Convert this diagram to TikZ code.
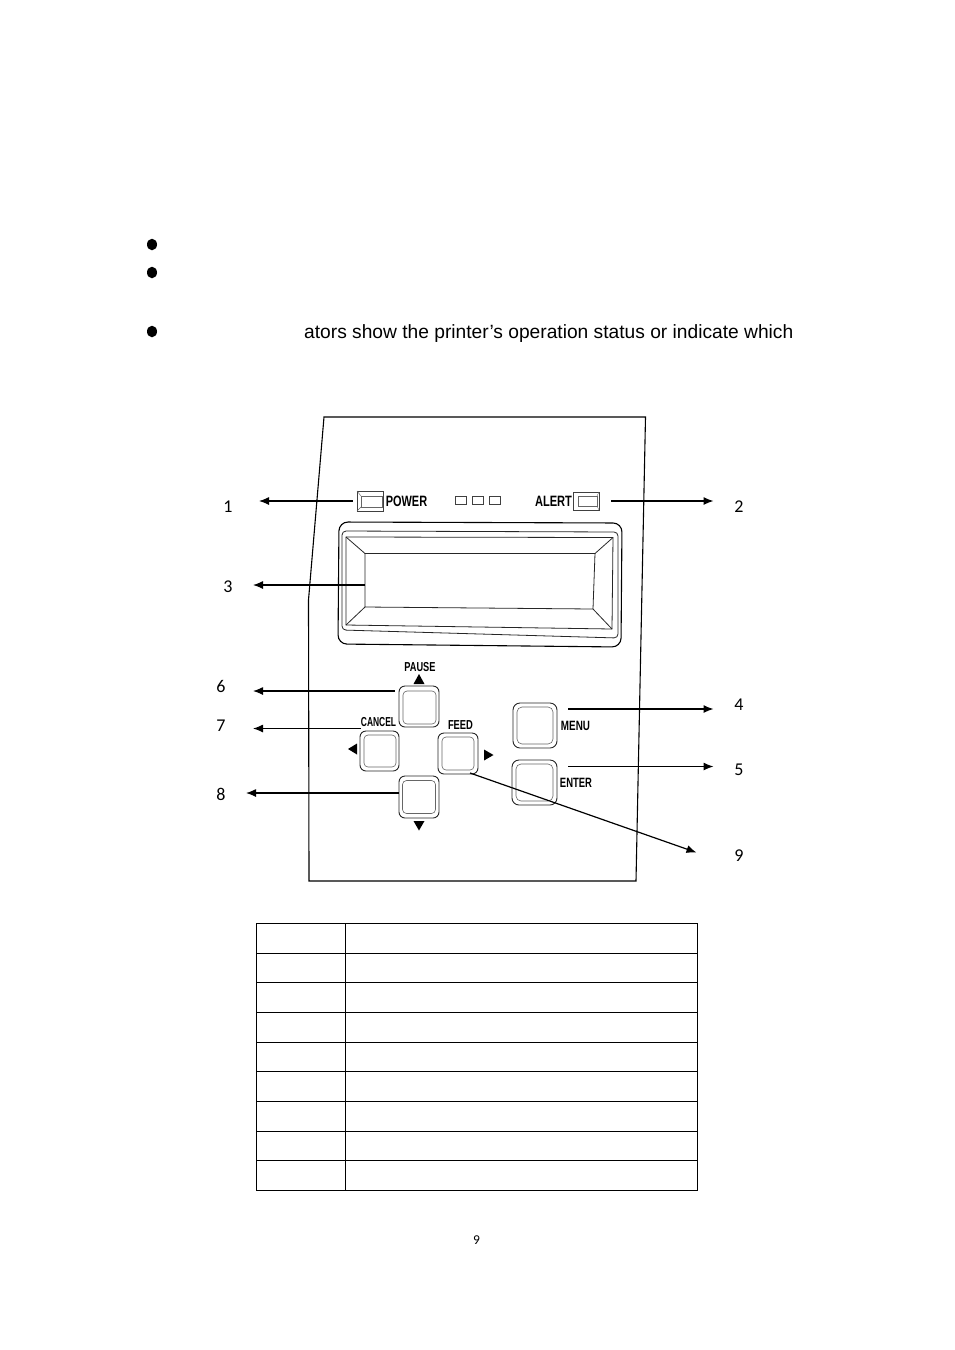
\documentclass[tikz,border=0pt]{standalone}
\usepackage{fontspec}
\setmainfont{Liberation Sans}
\newfontfamily\numfont{Carlito}
\usetikzlibrary{arrows.meta,calc}
\tikzset{
  ink/.style={line width=1.1pt,draw=black},
  thin ink/.style={line width=0.8pt,draw=black!85},
  callout/.style={line width=1.2pt,draw=black,-{Latex[length=10pt,width=8pt]}},
  keycap/.style={line width=0.9pt,draw=black!85,rounded corners=6pt,inner sep=0pt},
  keyface/.style={line width=0.6pt,draw=black!60,rounded corners=4pt,inner sep=0pt},
  keyname/.style={inner sep=0pt,font=\fontsize{13}{14}\selectfont\bfseries},
  num/.style={inner sep=0pt,font=\fontsize{18}{19}\selectfont\numfont},
  dot/.style={ellipse,fill=black,inner sep=0pt,minimum width=10pt,minimum height=11.5pt},
  tri/.style={fill=black,draw=none},
  led/.style={line width=0.7pt,draw=black!75,inner sep=0pt},
  bevel/.style={line width=0.4pt,draw=black!60},
}
\usetikzlibrary{shapes.geometric}
\begin{document}
\begin{tikzpicture}[x=1pt,y=-1pt]
\useasboundingbox[fill=white] (0,0) rectangle (954,1350);

% bullets and text
\node[dot] (b1) at (152,244.5) {};
\node[dot] (b2) at (152,272.5) {};
\node[dot] (b3) at (152,331.5) {};
\node[anchor=base west,inner sep=0pt,font=\fontsize{19.2}{21}\selectfont] (txt) at (304,338) {ators show the printer’s operation status or indicate which};

% panel outline
\draw[ink] (324,417) -- (645.5,417) -- (636,881) -- (309,881) -- (308.5,600) -- cycle;

% LEDs
\node[led,minimum width=26pt,minimum height=20pt] (ledP) at (370,501) {};
\draw[bevel] (361,496) rectangle (382,507);
\draw[bevel] (357,491) -- (361,496) (357,511) -- (361,507);
\node[led,minimum width=26pt,minimum height=18pt] (ledA) at (586,501) {};
\draw[bevel] (578,496) rectangle (597,506);
\draw[bevel] (599,492) -- (597,496) (599,510) -- (597,506);
\node[led,minimum width=11pt,minimum height=7.5pt] (s1) at (460.5,500.5) {};
\node[led,minimum width=11pt,minimum height=7.5pt] (s2) at (477.5,500.5) {};
\node[led,minimum width=11pt,minimum height=7.5pt] (s3) at (495,500.5) {};
\node[keyname,font=\fontsize{15}{16}\selectfont\bfseries,xscale=0.73] (lp) at (406.5,501) {POWER};
\node[keyname,font=\fontsize{15}{16}\selectfont\bfseries,xscale=0.74] (la) at (553.5,501) {ALERT};

% display
\draw[ink,rounded corners=9pt] (339,522) -- (622,523) -- (621,647) -- (338,644) -- cycle;
\draw[thin ink,rounded corners=4pt] (342,531) -- (618,532) -- (618,638) -- (342,630) -- cycle;
\draw[thin ink] (346,537) -- (613,537.5) -- (612,629) -- (346,625) -- cycle;
\draw[thin ink] (365,553.5) -- (595,553.5) -- (593,609) -- (365,607) -- cycle;
\draw[thin ink] (346,537) -- (365,553.5) (613,537.5) -- (595,553.5) (612,629) -- (593,609) (346,625) -- (365,607);
\coordinate (lcdedge) at (365,585);

% keys
\node[keycap,minimum width=40pt,minimum height=41pt] (pause) at (419,706.5) {};
\node[keyface,minimum width=33pt,minimum height=33pt] (pausei) at (419.5,707.5) {};
\node[keycap,minimum width=39pt,minimum height=40pt] (cancel) at (379.5,751) {};
\node[keyface,minimum width=32pt,minimum height=32pt] (canceli) at (380,751) {};
\node[keycap,minimum width=40pt,minimum height=41pt] (feed) at (458,753.5) {};
\node[keyface,minimum width=32pt,minimum height=33pt] (feedi) at (458,753.5) {};
\node[keycap,minimum width=40pt,minimum height=42pt] (down) at (419,797) {};
\node[keyface,minimum width=33pt,minimum height=33pt] (downi) at (419,797) {};
\node[keycap,rounded corners=7pt,minimum width=44pt,minimum height=45pt] (menu) at (535,725.5) {};
\node[keyface,rounded corners=5pt,minimum width=36pt,minimum height=37pt] (menui) at (535,725.5) {};
\node[keycap,rounded corners=7pt,minimum width=45pt,minimum height=45pt] (enter) at (534.5,782.5) {};
\node[keyface,rounded corners=5pt,minimum width=37pt,minimum height=37pt] (enteri) at (534.5,782.5) {};

\node[keyname,xscale=0.71] (lpause) at (420,667) {PAUSE};
\node[keyname,xscale=0.65] (lcancel) at (378.5,722.5) {CANCEL};
\node[keyname,xscale=0.72] (lfeed) at (460.5,725.5) {FEED};
\node[keyname,font=\fontsize{13.5}{14}\selectfont\bfseries,xscale=0.73] (lmenu) at (575.5,725.5) {MENU};
\node[keyname,font=\fontsize{13.5}{14}\selectfont\bfseries,xscale=0.70] (lenter) at (576,782.5) {ENTER};

% direction triangles
\fill[tri] (419,674) -- (424.5,684) -- (413.5,684) -- cycle;
\fill[tri] (348,749) -- (357,743.5) -- (357,754.5) -- cycle;
\fill[tri] (493.5,755) -- (484,749.5) -- (484,760.5) -- cycle;
\fill[tri] (419,830.5) -- (413.5,821) -- (424.5,821) -- cycle;

% number labels
\node[num] (n1) at (228,507) {1};
\node[num] (n2) at (739,507) {2};
\node[num] (n3) at (228,587) {3};
\node[num] (n4) at (739,705) {4};
\node[num] (n5) at (739,770) {5};
\node[num] (n6) at (221,686) {6};
\node[num] (n7) at (221,726) {7};
\node[num] (n8) at (221,794) {8};
\node[num] (n9) at (739,856) {9};

% callouts
\coordinate (e1) at (259,501);
\coordinate (e2) at (713.5,501);
\coordinate (e3) at (253,585);
\coordinate (e4) at (713.5,709);
\coordinate (e5) at (713.5,766.5);
\coordinate (e6) at (253,691);
\coordinate (e7) at (253,728.5);
\coordinate (e8) at (246,793);
\coordinate (e9) at (696.5,852.5);
\coordinate (s9) at (470,773);
\draw[callout,shorten <=4pt] (ledP.west) -- (e1);
\draw[callout,shorten <=12pt] (ledA.east) -- (e2);
\draw[callout] (lcdedge) -- (e3);
\draw[callout,shorten <=11pt] (menu.east |- e4) -- (e4);
\draw[callout,shorten <=11pt] (enter.east |- e5) -- (e5);
\draw[callout,shorten <=4pt] (pause.west |- e6) -- (e6);
\draw[callout] (lcancel.west |- e7) -- (e7);
\draw[callout] (down.west |- e8) -- (e8);
\draw[callout] (s9) -- (e9);

% table
\draw[line width=0.9pt] (256.5,923.5) rectangle (697.5,1190.5);
\draw[line width=0.9pt] (345.5,923.5) -- (345.5,1190.5);
\foreach \yy in {953.5,982.5,1012.5,1042.5,1071.5,1101.5,1131.5,1160.5}
  \draw[line width=0.9pt] (256.5,\yy) -- (697.5,\yy);

% page number
\node[inner sep=0pt,font=\fontsize{13.5}{15}\selectfont\numfont] (pg) at (476.5,1240) {9};
\end{tikzpicture}
\end{document}
